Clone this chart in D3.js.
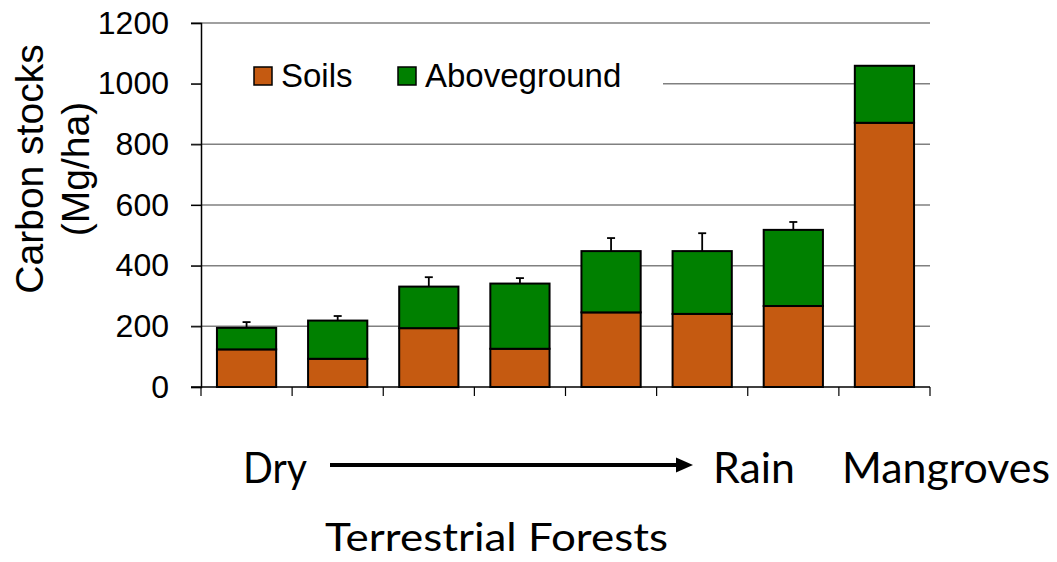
<!DOCTYPE html>
<html><head><meta charset="utf-8">
<script src="https://cdn.jsdelivr.net/npm/d3@7"></script>
<style>html,body{margin:0;padding:0;background:#fff}svg{display:block}</style>
</head><body>
<svg id="c" width="1057" height="562"></svg>
<script>
const categories = ["Forest 1","Forest 2","Forest 3","Forest 4","Forest 5","Forest 6","Forest 7","Mangroves"];
const soils = [124, 93, 194, 126, 246, 241, 267, 871];
const aboveground = [71, 126, 137, 215, 202, 207, 251, 188];
const errors = [19, 15, 31, 18, 43, 59, 26, 0];
const yTicks = [0, 200, 400, 600, 800, 1000, 1200];
const seriesNames = ["Soils", "Aboveground"];
const colors = ["#C55A11", "#008000"];

const svg = d3.select("#c");
const L = 201, R = 930, T = 23, B = 387;
const x = d3.scaleBand().domain(categories).range([L, R]).paddingInner(0.35).paddingOuter(0.175);
const y = d3.scaleLinear().domain([0, 1200]).range([B, T]);
const xTickScale = d3.scaleBand().domain(categories).range([L, R]);

// gridlines
svg.append("g").selectAll("line").data(yTicks.filter(d => d > 0)).join("line")
  .attr("x1", 191).attr("x2", R).attr("y1", d => y(d)).attr("y2", d => y(d))
  .attr("stroke", "#808080").attr("stroke-width", 1.5);

// legend background
svg.append("rect").attr("x", L + 1).attr("y", 48).attr("width", 663 - L - 1).attr("height", 60).attr("fill", "#fff");

// y axis
const yAxis = d3.axisLeft(y).tickValues(yTicks).tickSize(10).tickPadding(22).tickFormat(d3.format("d"));
const gy = svg.append("g").attr("transform", `translate(${L},0)`).call(yAxis);
gy.select(".domain").attr("stroke", "#000").attr("stroke-width", 1.5);
gy.selectAll(".tick line").attr("stroke", "#000").attr("stroke-width", 1.2);
gy.selectAll(".tick text").attr("font-family", "Liberation Sans, Arial, sans-serif").attr("font-size", 32).attr("fill", "#000");

// x axis
const xAxis = d3.axisBottom(xTickScale).tickSize(0).tickFormat("");
const gx = svg.append("g").attr("transform", `translate(0,${B})`).call(xAxis);
gx.select(".domain").attr("stroke", "#000").attr("stroke-width", 1.5).attr("d", `M${191},0H${R}`);
const bounds = categories.map(c => xTickScale(c)).concat([R]);
gx.selectAll(".xt").data(bounds).join("line").attr("class", "xt")
  .attr("x1", d => d).attr("x2", d => d).attr("y1", 0).attr("y2", 9)
  .attr("stroke", "#000").attr("stroke-width", 1.2);

// stacked bars
const rows = categories.map((c, i) => ({cat: c, Soils: soils[i], Aboveground: aboveground[i], err: errors[i]}));
const stack = d3.stack().keys(seriesNames)(rows);
const gb = svg.append("g");
stack.forEach((s, si) => {
  gb.append("g").selectAll("rect").data(s).join("rect")
    .attr("x", d => x(d.data.cat)).attr("width", x.bandwidth())
    .attr("y", d => y(d[1])).attr("height", d => y(d[0]) - y(d[1]))
    .attr("fill", colors[si]).attr("stroke", "#000").attr("stroke-width", 2);
});

// error bars
const ge = svg.append("g");
rows.filter(d => d.err > 0).forEach(d => {
  const cx = x(d.cat) + x.bandwidth() / 2;
  const top = d.Soils + d.Aboveground;
  ge.append("line").attr("x1", cx).attr("x2", cx).attr("y1", y(top)).attr("y2", y(top + d.err))
    .attr("stroke", "#000").attr("stroke-width", 1.8);
  ge.append("line").attr("x1", cx - 4).attr("x2", cx + 4).attr("y1", y(top + d.err)).attr("y2", y(top + d.err))
    .attr("stroke", "#000").attr("stroke-width", 1.8);
});

// legend
const lg = svg.append("g").attr("font-family", "Liberation Sans, Arial, sans-serif").attr("font-size", 33);
const legX = [254, 398];
seriesNames.forEach((n, i) => {
  lg.append("rect").attr("x", legX[i]).attr("y", 67).attr("width", 18).attr("height", 18)
    .attr("fill", colors[i]).attr("stroke", "#000").attr("stroke-width", 1.5);
  lg.append("text").attr("x", legX[i] + 27).attr("y", 87).text(n);
});

// y title
const yt = svg.append("g").attr("font-family", "Liberation Sans, Arial, sans-serif").attr("font-size", 39).attr("text-anchor", "middle");
yt.append("text").attr("transform", "translate(43,169) rotate(-90)").text("Carbon stocks");
yt.append("text").attr("transform", "translate(89,169) rotate(-90)").text("(Mg/ha)");

// bottom annotations
const bt = svg.append("g").attr("font-family", "Lato, 'Open Sans', sans-serif").attr("font-size", 42).attr("fill", "#000");
bt.append("text").attr("x", 243).attr("y", 483).attr("textLength", 64).attr("lengthAdjust", "spacingAndGlyphs").text("Dry");
bt.append("text").attr("x", 713).attr("y", 483).attr("textLength", 82).attr("lengthAdjust", "spacingAndGlyphs").text("Rain");
bt.append("text").attr("x", 842).attr("y", 483).attr("textLength", 208).attr("lengthAdjust", "spacingAndGlyphs").text("Mangroves");
bt.append("text").attr("x", 325).attr("y", 551).attr("font-size", 38).attr("textLength", 343).attr("lengthAdjust", "spacingAndGlyphs").text("Terrestrial Forests");

// arrow
svg.append("line").attr("x1", 330).attr("x2", 680).attr("y1", 465).attr("y2", 465).attr("stroke", "#000").attr("stroke-width", 4);
svg.append("path").attr("d", "M676,457.5L693,465L676,472.5Z").attr("fill", "#000");
</script>
</body></html>
